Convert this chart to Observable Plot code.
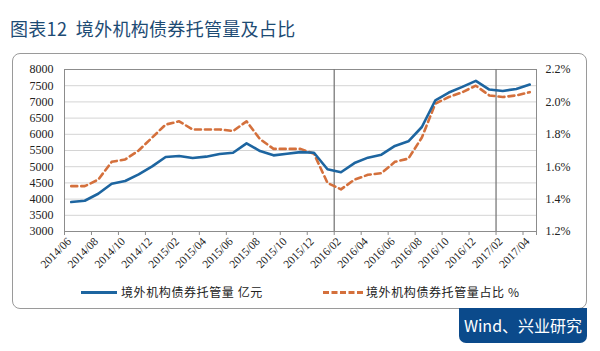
<!DOCTYPE html>
<html><head><meta charset="utf-8">
<script src="https://cdn.jsdelivr.net/npm/d3@7"></script>
<script src="https://cdn.jsdelivr.net/npm/@observablehq/plot@0.6"></script>
<style>
body{margin:0;background:#fff;}
#wrap{position:relative;width:600px;height:351px;overflow:hidden;font-family:"Noto Sans CJK SC",sans-serif;}
#title{position:absolute;left:10px;top:15px;font-size:18px;line-height:26px;color:#1d4b74;white-space:nowrap;letter-spacing:0.3px}
#box{position:absolute;left:12px;top:53px;width:575px;height:256px;border:1.3px solid #9a9a9a;border-radius:8px;box-sizing:border-box;background:#fff}
#badge{position:absolute;left:459px;top:308px;width:128px;height:35px;background:#0b4a8b;color:#fff;font-size:16px;line-height:35px;text-align:center;border-radius:0 0 7px 7px;white-space:nowrap}
#chart{position:absolute;left:0;top:0}
.leg{position:absolute;top:284px;font-size:12px;line-height:16px;color:#222;white-space:nowrap;letter-spacing:0.6px}
.sw{position:absolute;top:291px;height:0}
</style></head>
<body>
<div id="wrap">
  <div id="title">图表12&nbsp;&nbsp;境外机构债券托管量及占比</div>
  <div id="box"></div>
  <div id="chart"></div>
  <div class="sw" style="left:81px;width:36px;border-top:3px solid #1d65a0"></div>
  <div class="leg" style="left:121px">境外机构债券托管量 亿元</div>
  <div class="sw" style="left:323px;width:40px;border-top:3px dashed #d4703c"></div>
  <div class="leg" style="left:366px">境外机构债券托管量占比 %</div>
  <div id="badge">Wind、兴业研究</div>
</div>
<script>
const months = ["2014/06","2014/07","2014/08","2014/09","2014/10","2014/11","2014/12",
  "2015/01","2015/02","2015/03","2015/04","2015/05","2015/06","2015/07","2015/08","2015/09",
  "2015/10","2015/11","2015/12","2016/01","2016/02","2016/03","2016/04","2016/05","2016/06",
  "2016/07","2016/08","2016/09","2016/10","2016/11","2016/12","2017/01","2017/02","2017/03","2017/04"];
// 境外机构债券托管量 (亿元)
const custody = [3910,3950,4165,4475,4560,4762,5010,5300,5330,5270,5310,5390,5430,5720,5484,5350,
  5400,5450,5430,4920,4830,5112,5279,5372,5640,5783,6225,7050,7289,7463,7650,7381,7338,7400,7536];
// 境外机构债券托管量占比 (%)
const share = [1.48,1.48,1.52,1.63,1.645,1.70,1.78,1.86,1.88,1.83,1.83,1.83,1.82,1.88,1.77,1.71,
  1.71,1.71,1.68,1.50,1.46,1.52,1.55,1.56,1.63,1.65,1.78,1.99,2.03,2.06,2.10,2.04,2.03,2.04,2.06];
const leftTicks = [3000,3500,4000,4500,5000,5500,6000,6500,7000,7500,8000];
const rightTicks = [1.2,1.4,1.6,1.8,2.0,2.2];
const dividers = ["2016/02","2017/02"];

const toLeft = p => 3000 + (p - 1.2) * 5000;
const idx = months.map((m, i) => i);
const labelIdx = idx.filter(i => i % 2 === 0);
const bounds = idx.filter(i => i % 2 === 0).map(i => i - 0.5).concat([months.length - 0.5]);
const serif = "'Liberation Serif','Times New Roman',serif";

const chart = Plot.plot({
  width: 600, height: 351,
  marginTop: 69, marginBottom: 120, marginLeft: 64, marginRight: 64,
  style: {background: "transparent", color: "#222", fontFamily: serif, fontSize: "12px"},
  x: {domain: [-0.5, months.length - 0.5]},
  y: {domain: [3000, 8000]},
  marks: [
    Plot.gridY(leftTicks, {stroke: "#d4d4d4", strokeOpacity: 1}),
    Plot.frame({stroke: "#8c8c8c"}),
    Plot.ruleX(dividers, {x: d => months.indexOf(d) - 0.5, stroke: "#7a7a7a", strokeWidth: 1.3}),
    Plot.axisY(leftTicks, {anchor: "left", tickSize: 0, tickPadding: 11, fontSize: 12, label: null, tickFormat: d => String(d)}),
    Plot.axisY(rightTicks.map(toLeft), {anchor: "right", tickSize: 0, tickPadding: 9, fontSize: 12, label: null,
      tickFormat: v => ((v - 3000) / 5000 + 1.2).toFixed(1) + "%"}),
    Plot.axisX(bounds, {tickSize: 4, stroke: "#8c8c8c", tickFormat: () => "", label: null}),
    Plot.axisX(labelIdx, {tickSize: 0, tickPadding: 8, dx: -2, tickRotate: -45, fontSize: 11.5, label: null,
      tickFormat: i => months[i]}),
    Plot.line(idx, {x: i => i, y: i => toLeft(share[i]), stroke: "#d4703c", strokeWidth: 2.6, strokeDasharray: "6,4"}),
    Plot.line(idx, {x: i => i, y: i => custody[i], stroke: "#1d65a0", strokeWidth: 2.6})
  ]
});
document.getElementById("chart").appendChild(chart);
</script>
</body></html>
